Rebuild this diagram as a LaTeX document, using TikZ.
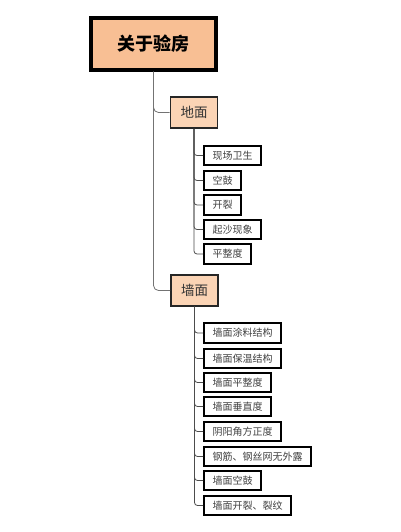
\documentclass[tikz,border=0pt]{standalone}
\usepackage{fontspec}
\newfontfamily\cjk{Noto Sans CJK SC}
\begin{document}
\begin{tikzpicture}[x=1pt,y=-1pt,
  rootbox/.style={draw=black,line width=3.5pt,fill=rootfill,minimum width=125pt,minimum height=52pt,inner sep=0pt,font=\cjk\bfseries\fontsize{18}{20}\selectfont,text=black},
  midbox/.style={draw=black!85,line width=1.6pt,fill=midfill,minimum width=47pt,minimum height=31pt,inner sep=0pt,font=\cjk\fontsize{13.5}{15}\selectfont,text=black!80},
  leafbox/.style={draw=black,line width=2pt,fill=white,minimum height=19.5pt,inner xsep=8.5pt,inner ysep=0pt,anchor=west,font=\cjk\fontsize{10}{12}\selectfont,text=black!75},
  link/.style={draw=black!55,line width=0.8pt,rounded corners=5pt},
  sublink/.style={draw=black!70,line width=0.8pt,rounded corners=3pt}]
\definecolor{rootfill}{HTML}{F8BF94}
\definecolor{midfill}{HTML}{FBD4B5}
\useasboundingbox (0,0) rectangle (400,532);
\fill[white] (0,0) rectangle (400,532);
\node[rootbox] (root) at (153.5,44) {关于验房};
\node[midbox] (dm) at (194,112.5) {地面};
\node[midbox] (qm) at (194.5,290.5) {墙面};
% floor children
\node[leafbox] (a1) at (203,155.5) {现场卫生};
\node[leafbox] (a2) at (203,180.5) {空鼓};
\node[leafbox] (a3) at (203,205) {开裂};
\node[leafbox] (a4) at (203,229.5) {起沙现象};
\node[leafbox] (a5) at (203,254) {平整度};
% wall children
\node[leafbox] (b1) at (203,333) {墙面涂料结构};
\node[leafbox] (b2) at (203,358.5) {墙面保温结构};
\node[leafbox] (b3) at (203,382.5) {墙面平整度};
\node[leafbox] (b4) at (203,406.5) {墙面垂直度};
\node[leafbox] (b5) at (203,431.5) {阴阳角方正度};
\node[leafbox] (b6) at (203,456.5) {钢筋、钢丝网无外露};
\node[leafbox] (b7) at (203,480.5) {墙面空鼓};
\node[leafbox] (b8) at (203,505.5) {墙面开裂、裂纹};
% connectors
\draw[link] (root.south) |- (dm.west);
\draw[link] (root.south) |- (qm.west);
\foreach \c in {a1,a2,a3,a4,a5} \draw[sublink] (dm.south) |- (\c.west);
\foreach \c in {b1,b2,b3,b4,b5,b6,b7,b8} \draw[sublink] (qm.south) |- (\c.west);
\end{tikzpicture}
\end{document}
